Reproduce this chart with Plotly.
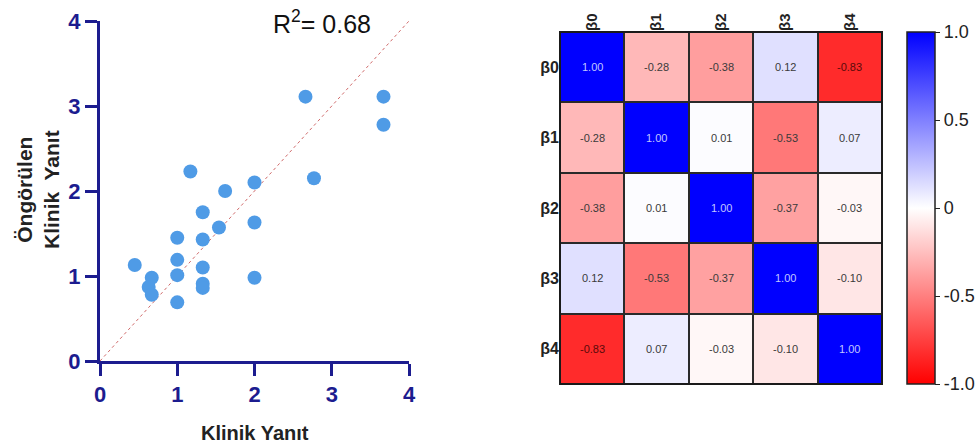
import plotly.graph_objects as go

# ---- scatter data ----
klinik_yanit = [0.45, 0.67, 0.63, 0.67, 1.0, 1.0, 1.0, 1.0, 1.17, 1.33, 1.33, 1.33, 1.33, 1.33,
                1.54, 1.62, 2.0, 2.0, 2.0, 2.66, 2.77, 3.67, 3.67]
ongorulen = [1.13, 0.98, 0.87, 0.78, 1.45, 1.19, 1.01, 0.69, 2.23, 1.75, 1.43, 1.10, 0.91, 0.86,
             1.57, 2.00, 2.10, 1.63, 0.98, 3.11, 2.15, 3.11, 2.78]
identity_line = [0, 4]
axis_ticks = [0, 1, 2, 3, 4]
r2_text = "R<sup>2</sup>= 0.68"

# ---- correlation heatmap data ----
params = ["β0", "β1", "β2", "β3", "β4"]
corr = [
    [1.00, -0.28, -0.38, 0.12, -0.83],
    [-0.28, 1.00, 0.01, -0.53, 0.07],
    [-0.38, 0.01, 1.00, -0.37, -0.03],
    [0.12, -0.53, -0.37, 1.00, -0.10],
    [-0.83, 0.07, -0.03, -0.10, 1.00],
]
cbar_ticks = [1.0, 0.5, 0, -0.5, -1.0]
cbar_ticktext = ["1.0", "0.5", "0", "-0.5", "-1.0"]

W, H = 978, 447
NAVY = "#1c1c8f"
FONT = "Liberation Sans, Arial, sans-serif"

fig = go.Figure()

fig.add_trace(go.Scatter(
    x=identity_line, y=identity_line, mode="lines",
    line=dict(color="#d06a6a", width=1, dash="dot"),
    xaxis="x", yaxis="y", showlegend=False, hoverinfo="skip"))

fig.add_trace(go.Scatter(
    x=klinik_yanit, y=ongorulen, mode="markers",
    marker=dict(color="#4f9be6", size=14, line=dict(width=0)),
    xaxis="x", yaxis="y", showlegend=False, cliponaxis=False))

fig.add_trace(go.Heatmap(
    z=corr, x=params, y=params,
    xaxis="x2", yaxis="y2",
    zmin=-1, zmax=1,
    colorscale=[[0, "#ff0000"], [0.5, "#ffffff"], [1, "#0000ff"]],
    xgap=2, ygap=2,
    showscale=True,
    colorbar=dict(
        x=907 / W, xanchor="left", xpad=0, ypad=0,
        y=1 - 208 / H, yanchor="middle",
        len=352, lenmode="pixels",
        thickness=28, thicknessmode="pixels",
        outlinecolor="#222", outlinewidth=1.5,
        tickvals=cbar_ticks, ticktext=cbar_ticktext,
        ticks="outside", ticklen=5, tickcolor="#222",
        tickfont=dict(family=FONT, size=18, color="#222"),
    ),
    hoverinfo="skip",
))

# cell annotations
for i, row in enumerate(corr):
    for j, v in enumerate(row):
        if v >= 0.9:
            col = "#c0c6ff"
        elif v <= -0.7:
            col = "#5a0a0a"
        else:
            col = "#3a3a3a"
        fig.add_annotation(x=params[j], y=params[i], xref="x2", yref="y2",
                           text=f"{v:.2f}", showarrow=False,
                           xanchor="center", yanchor="middle",
                           font=dict(family=FONT, size=11, color=col))

fig.add_annotation(x=322 / W, y=1 - 22 / H, xref="paper", yref="paper",
                   text=r2_text, showarrow=False, xanchor="center", yanchor="middle",
                   font=dict(family=FONT, size=25, color="#111"))
fig.add_annotation(x=255 / W, y=1 - 433 / H, xref="paper", yref="paper",
                   text="Klinik Yanıt", showarrow=False, xanchor="center", yanchor="middle",
                   font=dict(family=FONT, size=20, color="#222", weight="bold"))
fig.add_annotation(x=38 / W, y=1 - 190 / H, xref="paper", yref="paper",
                   text="Öngörülen<br>Klinik  Yanıt", showarrow=False, textangle=-90,
                   xanchor="center", yanchor="middle",
                   font=dict(family=FONT, size=21, color="#222", weight="bold"))

# dark background behind heatmap to form grid lines
fig.add_shape(type="rect", xref="x2 domain", yref="y2 domain",
              x0=0, x1=1, y0=0, y1=1, layer="below",
              fillcolor="#2a2a2a", line=dict(color="#1a1a1a", width=2))

axis_common = dict(
    range=[0, 4], tickvals=axis_ticks, showgrid=False, zeroline=False,
    showline=True, linecolor=NAVY, linewidth=3,
    ticks="outside", ticklen=12, tickwidth=3, tickcolor=NAVY,
    tickfont=dict(family=FONT, size=22, color=NAVY, weight="bold"),
)

fig.update_layout(
    width=W, height=H,
    margin=dict(l=0, r=0, t=0, b=0, autoexpand=False),
    paper_bgcolor="white", plot_bgcolor="white",
    xaxis=dict(domain=[100 / W, 409 / W], anchor="y", automargin=False, **axis_common),
    yaxis=dict(domain=[1 - 361 / H, 1 - 21 / H], anchor="x", automargin=False, **axis_common),
    xaxis2=dict(domain=[560 / W, 882 / W], anchor="y2", side="top", automargin=False,
                tickangle=-90, showgrid=False, zeroline=False, ticks="",
                tickfont=dict(family=FONT, size=15, color="#222", weight="bold")),
    yaxis2=dict(domain=[1 - 384 / H, 1 - 32 / H], anchor="x2", autorange="reversed",
                automargin=False, showgrid=False, zeroline=False, ticks="",
                tickfont=dict(family=FONT, size=16, color="#222", weight="bold")),
)

fig.write_html("out.html")
